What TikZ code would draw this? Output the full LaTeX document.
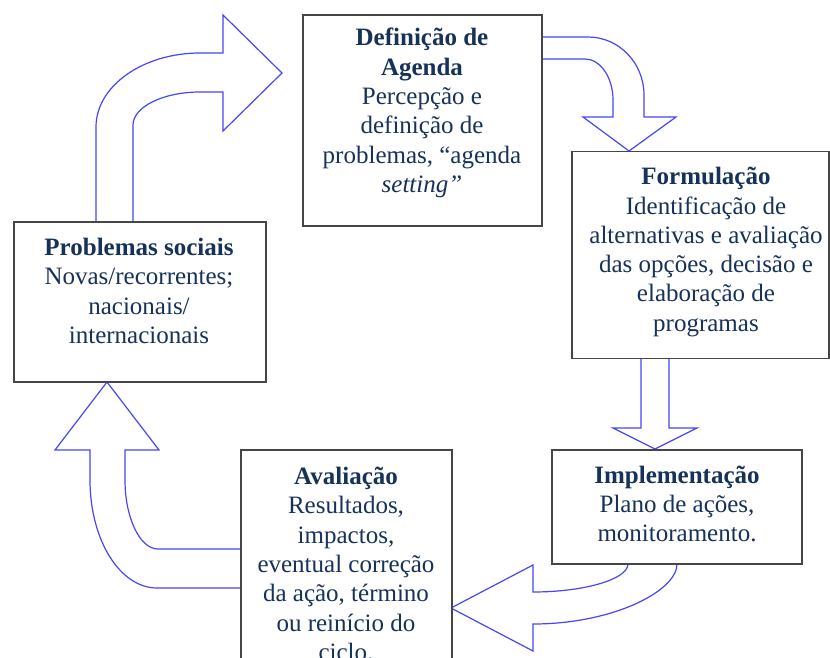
\documentclass[tikz,border=0pt]{standalone}
\usepackage{fontspec}
\setmainfont{Liberation Serif}
\definecolor{txt}{RGB}{23,50,88}
\definecolor{arr}{RGB}{70,70,250}
\definecolor{bord}{RGB}{70,70,70}
\begin{document}
\begin{tikzpicture}[x=1pt,y=-1pt,
  box/.style={draw=bord,line width=1.3pt,fill=white,inner sep=0pt},
  lbl/.style={text=txt,align=center,font=\fontsize{25}{29.3}\selectfont,inner sep=0pt},
  blockarrow/.style={draw=arr,line width=1.2pt,line join=miter,fill=white}]
\useasboundingbox (0,0) rectangle (830,658);
\clip (0,0) rectangle (830,658);
% block arrows
\draw[blockarrow] (96,222) -- (96,127) .. controls (96,86) and (143,53) .. (200,53) -- (223,53) -- (223,15) -- (282,73) -- (223,131) -- (223,92) -- (200,92) .. controls (163,92) and (133,107) .. (133,125) -- (133,222);
\draw[blockarrow] (542,37) -- (588,37) .. controls (619,37) and (644,63) .. (644,95) -- (644,117) -- (676,117) -- (629,151) -- (583,117) -- (613,117) -- (613,100) .. controls (613,77) and (600,59) .. (585,59) -- (542,59);
\draw[blockarrow] (641,358) -- (641,428) -- (613,428) -- (655,449) -- (697,428) -- (669,428) -- (669,358);
\draw[blockarrow] (628,564) .. controls (628,579) and (585,592) .. (533,592) -- (533,565) -- (451,608) -- (533,651) -- (533,624) .. controls (613,624) and (677,591) .. (677,564);
\draw[blockarrow] (241,549) -- (158,549) .. controls (140,549) and (125,518) .. (125,480) -- (125,450) -- (159,450) -- (107,382) -- (55,450) -- (90,450) -- (90,480) .. controls (90,540) and (120,588) .. (157,588) -- (241,588);
% boxes
\node[box,minimum width=252,minimum height=160] (prob) at (140,302) {};
\node[box,minimum width=239,minimum height=211] (def) at (422.5,120.5) {};
\node[box,minimum width=257,minimum height=207] (form) at (700.5,255) {};
\node[box,minimum width=250,minimum height=114] (impl) at (677,507) {};
\node[box,minimum width=211,minimum height=240] (aval) at (346.5,570) {};
% texts
\node[lbl] (probt) at (139,291) {\textbf{Problemas sociais}\\Novas/recorrentes;\\nacionais/\\internacionais};
\node[lbl] (deft) at (422,113) {\textbf{Definição de}\\\textbf{Agenda}\\Percepção e\\definição de\\problemas, “agenda\\\textit{setting”}};
\node[lbl] (formt) at (706,252) {\textbf{Formulação}\\Identificação de\\alternativas e avaliação\\das opções, decisão e\\elaboração de\\programas};
\node[lbl] (implt) at (677,504) {\textbf{Implementação}\\Plano de ações,\\monitoramento.};
\node[lbl] (avalt) at (346,564) {\textbf{Avaliação}\\Resultados,\\impactos,\\eventual correção\\da ação, término\\ou reinício do\\ciclo.};
\end{tikzpicture}
\end{document}
